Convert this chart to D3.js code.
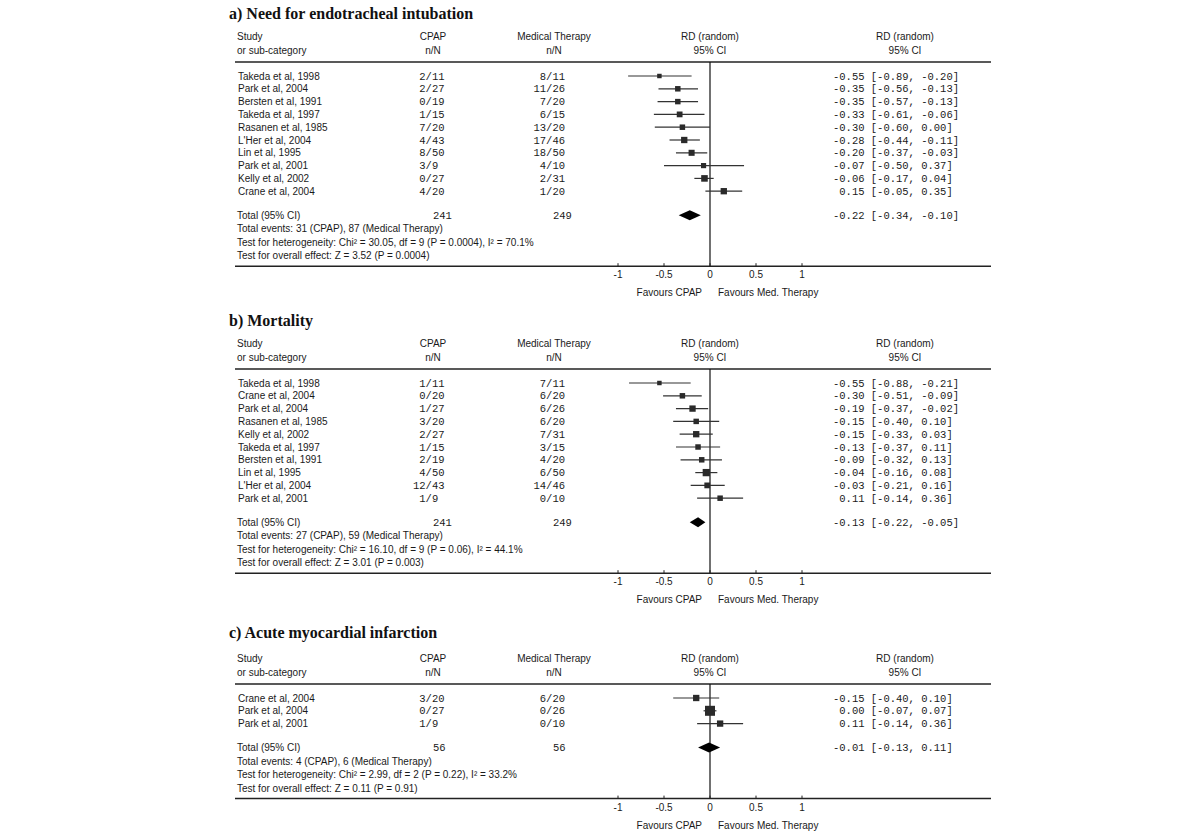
<!DOCTYPE html>
<html>
<head>
<meta charset="utf-8">
<script src="https://cdn.jsdelivr.net/npm/d3@7"></script>
<style>
  body { margin: 0; background: #fff; }
  svg { display: block; }
  .sans { font-family: "Liberation Sans", Arial, sans-serif; font-size: 10px; fill: #1a1a1a; }
  .mono { font-family: "Liberation Mono", "Courier New", monospace; font-size: 10.5px; fill: #1a1a1a; white-space: pre; }
  .title { font-family: "Liberation Serif", "Times New Roman", serif; font-size: 16px; font-weight: bold; fill: #111; }
</style>
</head>
<body>
<svg width="1200" height="838"></svg>
<script>
// a) 気管挿管
var studiesA = ["Takeda et al, 1998", "Park et al, 2004", "Bersten et al, 1991", "Takeda et al, 1997", "Rasanen et al, 1985",
                "L'Her et al, 2004", "Lin et al, 1995", "Park et al, 2001", "Kelly et al, 2002", "Crane et al, 2004"];
var cpapA = ["2/11", "2/27", "0/19", "1/15", "7/20", "4/43", "8/50", "3/9", "0/27", "4/20"];
var medA = ["8/11", "11/26", "7/20", "6/15", "13/20", "17/46", "18/50", "4/10", "2/31", "1/20"];
var rdA = [-0.55, -0.35, -0.35, -0.33, -0.30, -0.28, -0.20, -0.07, -0.06, 0.15];
var loA = [-0.89, -0.56, -0.57, -0.61, -0.60, -0.44, -0.37, -0.50, -0.17, -0.05];
var hiA = [-0.20, -0.13, -0.13, -0.06, 0.00, -0.11, -0.03, 0.37, 0.04, 0.35];
var weightA = [6, 9, 9, 10, 9, 12, 11, 8, 13, 12];
var pooledA = [-0.22, -0.34, -0.10];
var totalsA = ["241", "249"];
var notesA = ["Total events: 31 (CPAP), 87 (Medical Therapy)",
              "Test for heterogeneity: Chi\u00b2 = 30.05, df = 9 (P = 0.0004), I\u00b2 = 70.1%",
              "Test for overall effect: Z = 3.52 (P = 0.0004)"];

// b) 死亡率
var studiesB = ["Takeda et al, 1998", "Crane et al, 2004", "Park et al, 2004", "Rasanen et al, 1985", "Kelly et al, 2002",
                "Takeda et al, 1997", "Bersten et al, 1991", "Lin et al, 1995", "L'Her et al, 2004", "Park et al, 2001"];
var cpapB = ["1/11", "0/20", "1/27", "3/20", "2/27", "1/15", "2/19", "4/50", "12/43", "1/9"];
var medB = ["7/11", "6/20", "6/26", "6/20", "7/31", "3/15", "4/20", "6/50", "14/46", "0/10"];
var rdB = [-0.55, -0.30, -0.19, -0.15, -0.15, -0.13, -0.09, -0.04, -0.03, 0.11];
var loB = [-0.88, -0.51, -0.37, -0.40, -0.33, -0.37, -0.32, -0.16, -0.21, -0.14];
var hiB = [-0.21, -0.09, -0.02, 0.10, 0.03, 0.11, 0.13, 0.08, 0.16, 0.36];
var weightB = [6, 9, 12, 9, 12, 9, 9, 16, 10, 9];
var pooledB = [-0.13, -0.22, -0.05];
var totalsB = ["241", "249"];
var notesB = ["Total events: 27 (CPAP), 59 (Medical Therapy)",
              "Test for heterogeneity: Chi\u00b2 = 16.10, df = 9 (P = 0.06), I\u00b2 = 44.1%",
              "Test for overall effect: Z = 3.01 (P = 0.003)"];

// c) 急性心筋梗塞
var studiesC = ["Crane et al, 2004", "Park et al, 2004", "Park et al, 2001"];
var cpapC = ["3/20", "0/27", "1/9"];
var medC = ["6/20", "0/26", "0/10"];
var rdC = [-0.15, 0.00, 0.11];
var loC = [-0.40, -0.07, -0.14];
var hiC = [0.10, 0.07, 0.36];
var weightC = [12, 30, 12];
var pooledC = [-0.01, -0.13, 0.11];
var totalsC = ["56", "56"];
var notesC = ["Total events: 4 (CPAP), 6 (Medical Therapy)",
              "Test for heterogeneity: Chi\u00b2 = 2.99, df = 2 (P = 0.22), I\u00b2 = 33.2%",
              "Test for overall effect: Z = 0.11 (P = 0.91)"];

var titles = ["a) Need for endotracheal intubation", "b) Mortality", "c) Acute myocardial infarction"];
var tickValues = [-1, -0.5, 0, 0.5, 1];
var tickLabels = ["-1", "-0.5", "0", "0.5", "1"];

var panels = [
  {title: titles[0], rule: 62, titleDy: 43, studies: studiesA, cpap: cpapA, med: medA, rd: rdA, lo: loA, hi: hiA, w: weightA, pooled: pooledA, totals: totalsA, notes: notesA},
  {title: titles[1], rule: 369, titleDy: 43, studies: studiesB, cpap: cpapB, med: medB, rd: rdB, lo: loB, hi: hiB, w: weightB, pooled: pooledB, totals: totalsB, notes: notesB},
  {title: titles[2], rule: 684, titleDy: 46, studies: studiesC, cpap: cpapC, med: medC, rd: rdC, lo: loC, hi: hiC, w: weightC, pooled: pooledC, totals: totalsC, notes: notesC}
];

var svg = d3.select("svg");
var x = d3.scaleLinear().domain([-1, 1]).range([618, 802]);
var box = d3.scaleSqrt().domain([0, 30]).range([0, 10]);
var rowStep = 12.8;
var left = 235, right = 991;

function num(v) { return (v < 0 ? "" : " ") + v.toFixed(2); }
function ciText(m, lo, hi) { return num(m) + " [" + lo.toFixed(2) + ", " + hi.toFixed(2) + "]"; }
function padN(s) { return s.split("/")[0].length < 2 ? " " + s : s; }

panels.forEach(function(p) {
  var g = svg.append("g");
  var r = p.rule;
  var y = function(i) { return r + 14 + i * rowStep; };
  var totalY = y(p.studies.length - 1) + 24;
  var axisY = totalY + 51;

  g.append("text").attr("class", "title").attr("x", 229).attr("y", r - p.titleDy).text(p.title);

  // ヘッダー
  var h1 = r - 22, h2 = r - 8;
  g.append("text").attr("class", "sans").attr("x", 237).attr("y", h1).text("Study");
  g.append("text").attr("class", "sans").attr("x", 237).attr("y", h2).text("or sub-category");
  [[433, "CPAP", "n/N"], [554, "Medical Therapy", "n/N"], [710, "RD (random)", "95% CI"], [905, "RD (random)", "95% CI"]]
    .forEach(function(c) {
      g.append("text").attr("class", "sans").attr("x", c[0]).attr("y", h1).attr("text-anchor", "middle").text(c[1]);
      g.append("text").attr("class", "sans").attr("x", c[0]).attr("y", h2).attr("text-anchor", "middle").text(c[2]);
    });

  g.append("line").attr("x1", left).attr("x2", right).attr("y1", r).attr("y2", r)
    .attr("stroke", "#222").attr("stroke-width", 1.5);

  // ゼロ線
  g.append("line").attr("x1", x(0)).attr("x2", x(0)).attr("y1", r).attr("y2", axisY)
    .attr("stroke", "#111").attr("stroke-width", 1.2);

  var rows = g.selectAll(".row").data(p.studies).enter().append("g").attr("class", "row");
  rows.append("text").attr("class", "sans").attr("x", 238).attr("y", function(d, i) { return y(i) + 3.5; }).text(function(d) { return d; });
  rows.append("text").attr("class", "mono").attr("x", 413).attr("y", function(d, i) { return y(i) + 3.5; })
    .text(function(d, i) { return padN(p.cpap[i]); });
  rows.append("text").attr("class", "mono").attr("x", 565).attr("y", function(d, i) { return y(i) + 3.5; })
    .attr("text-anchor", "end").text(function(d, i) { return p.med[i]; });
  rows.append("text").attr("class", "mono").attr("x", 833).attr("y", function(d, i) { return y(i) + 3.5; })
    .text(function(d, i) { return ciText(p.rd[i], p.lo[i], p.hi[i]); });

  rows.append("line")
    .attr("x1", function(d, i) { return x(p.lo[i]); })
    .attr("x2", function(d, i) { return x(p.hi[i]); })
    .attr("y1", function(d, i) { return y(i); })
    .attr("y2", function(d, i) { return y(i); })
    .attr("stroke", "#333").attr("stroke-width", 1.2);
  rows.append("rect")
    .attr("x", function(d, i) { return x(p.rd[i]) - box(p.w[i]) / 2; })
    .attr("y", function(d, i) { return y(i) - box(p.w[i]) / 2; })
    .attr("width", function(d, i) { return box(p.w[i]); })
    .attr("height", function(d, i) { return box(p.w[i]); })
    .attr("fill", "#2a2a2a");

  // 合計
  g.append("text").attr("class", "sans").attr("x", 237).attr("y", totalY + 3.5).text("Total (95% CI)");
  g.append("text").attr("class", "mono").attr("x", 433).attr("y", totalY + 3.5).text(p.totals[0]);
  g.append("text").attr("class", "mono").attr("x", 553).attr("y", totalY + 3.5).text(p.totals[1]);
  g.append("text").attr("class", "mono").attr("x", 833).attr("y", totalY + 3.5)
    .text(ciText(p.pooled[0], p.pooled[1], p.pooled[2]));
  g.append("path")
    .attr("d", "M" + x(p.pooled[1]) + "," + totalY + "L" + x(p.pooled[0]) + "," + (totalY - 5) +
               "L" + x(p.pooled[2]) + "," + totalY + "L" + x(p.pooled[0]) + "," + (totalY + 5) + "Z")
    .attr("fill", "#000");

  g.selectAll(".note").data(p.notes).enter().append("text").attr("class", "sans")
    .attr("x", 237).attr("y", function(d, i) { return totalY + 13.5 * (i + 1) + 3.5; })
    .text(function(d) { return d; });

  // 軸
  g.append("line").attr("x1", left).attr("x2", right).attr("y1", axisY).attr("y2", axisY)
    .attr("stroke", "#222").attr("stroke-width", 1.5);
  g.selectAll(".tick").data(tickValues).enter().append("line")
    .attr("x1", function(d) { return x(d); }).attr("x2", function(d) { return x(d); })
    .attr("y1", axisY - 3).attr("y2", axisY).attr("stroke", "#222");
  g.selectAll(".tl").data(tickValues).enter().append("text").attr("class", "sans")
    .attr("x", function(d) { return x(d); }).attr("y", axisY + 12).attr("text-anchor", "middle")
    .text(function(d, i) { return tickLabels[i]; });
  g.append("text").attr("class", "sans").attr("x", x(0) - 8).attr("y", axisY + 30).attr("text-anchor", "end").text("Favours CPAP");
  g.append("text").attr("class", "sans").attr("x", x(0) + 8).attr("y", axisY + 30).text("Favours Med. Therapy");
});
</script>
</body>
</html>
